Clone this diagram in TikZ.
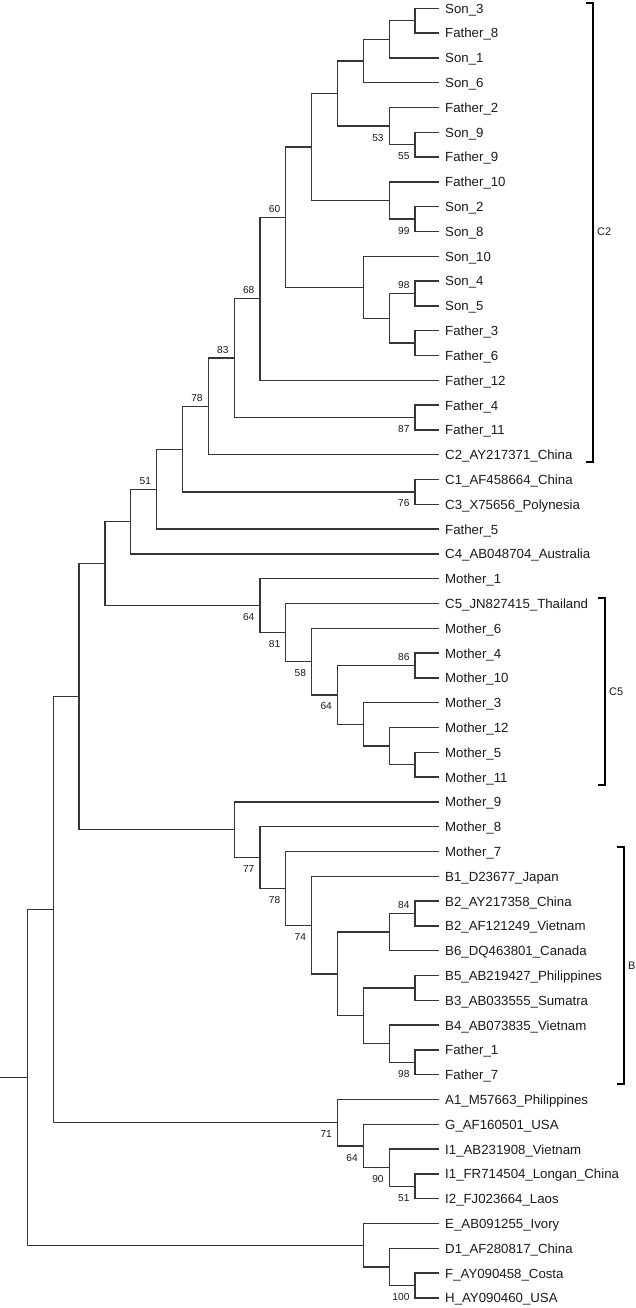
\documentclass[tikz,border=0pt]{standalone}
\usepackage{fontspec}
\setmainfont{Liberation Sans}
\usetikzlibrary{calc}
\definecolor{treegray}{HTML}{363636}
\definecolor{txt}{HTML}{1A1A1A}
\newcommand\mkclade[4]{%
  \path let \p1=(#3), \p2=(#4) in coordinate (#1) at ({1.5bp+25.85bp*#2},{0.5*(\y1+\y2)});
  \draw[br] (#3) -| (#1) |- (#4);}
\newcommand\bsb[2]{\node[bsl] (bs#1) at ([xshift=-5.5bp,yshift=-11.5bp]#1) {#2};}
\newcommand\bsa[2]{\node[bsl] (bs#1) at ([xshift=-5.5bp,yshift=8.3bp]#1) {#2};}
\begin{document}
\begin{tikzpicture}[x=1bp,y=-1bp,
  br/.style={draw=treegray,line width=1.25bp},
  leaf/.style={anchor=base west,inner sep=0pt,font=\fontsize{13.3}{15}\selectfont,text=txt},
  bsl/.style={anchor=east,inner sep=0pt,font=\fontsize{10.2}{12}\selectfont,text=txt},
  brk/.style={draw=black,line width=2bp},
  grp/.style={anchor=west,inner sep=0pt,font=\fontsize{11}{13}\selectfont,text=txt}]
\useasboundingbox (0,0) rectangle (636,1308);
\coordinate (origin) at (0,0);
\foreach \nm [count=\i] in {Son\_3,Father\_8,Son\_1,Son\_6,Father\_2,Son\_9,Father\_9,Father\_10,Son\_2,Son\_8,Son\_10,Son\_4,Son\_5,Father\_3,Father\_6,Father\_12,Father\_4,Father\_11,C2\_AY217371\_China,C1\_AF458664\_China,C3\_X75656\_Polynesia,Father\_5,C4\_AB048704\_Australia,Mother\_1,C5\_JN827415\_Thailand,Mother\_6,Mother\_4,Mother\_10,Mother\_3,Mother\_12,Mother\_5,Mother\_11,Mother\_9,Mother\_8,Mother\_7,B1\_D23677\_Japan,B2\_AY217358\_China,B2\_AF121249\_Vietnam,B6\_DQ463801\_Canada,B5\_AB219427\_Philippines,B3\_AB033555\_Sumatra,B4\_AB073835\_Vietnam,Father\_1,Father\_7,A1\_M57663\_Philippines,G\_AF160501\_USA,I1\_AB231908\_Vietnam,I1\_FR714504\_Longan\_China,I2\_FJ023664\_Laos,E\_AB091255\_Ivory,D1\_AF280817\_China,F\_AY090458\_Costa,H\_AY090460\_USA}{
  \coordinate (t\i) at (439,{8.3+24.8*(\i-1)});
  \node[leaf] (n\i) at (445,{8.3+24.8*(\i-1)+4.9}) {\nm};
}
% C2 part
\mkclade{c1}{16}{t1}{t2}
\mkclade{c2}{15}{c1}{t3}
\mkclade{c3}{14}{c2}{t4}
\mkclade{c4}{16}{t6}{t7}
\mkclade{c5}{15}{t5}{c4}
\mkclade{c6}{13}{c3}{c5}
\mkclade{c7}{16}{t9}{t10}
\mkclade{c8}{15}{t8}{c7}
\mkclade{c9}{12}{c6}{c8}
\mkclade{c10}{16}{t12}{t13}
\mkclade{c11}{16}{t14}{t15}
\mkclade{c12}{15}{c10}{c11}
\mkclade{c13}{14}{t11}{c12}
\mkclade{c14}{11}{c9}{c13}
\mkclade{c15}{10}{c14}{t16}
\mkclade{c16}{16}{t17}{t18}
\mkclade{c17}{9}{c15}{c16}
\mkclade{c18}{8}{c17}{t19}
\mkclade{c19}{16}{t20}{t21}
\mkclade{c20}{7}{c18}{c19}
\mkclade{c21}{6}{c20}{t22}
\mkclade{c22}{5}{c21}{t23}
% C5 part
\mkclade{d1}{16}{t27}{t28}
\mkclade{d2}{16}{t31}{t32}
\mkclade{d3}{15}{t30}{d2}
\mkclade{d4}{14}{t29}{d3}
\mkclade{d5}{13}{d1}{d4}
\mkclade{d6}{12}{t26}{d5}
\mkclade{d7}{11}{t25}{d6}
\mkclade{d8}{10}{t24}{d7}
\mkclade{d9}{4}{c22}{d8}
% B part
\mkclade{e1}{16}{t37}{t38}
\mkclade{e2}{15}{e1}{t39}
\mkclade{e3}{16}{t40}{t41}
\mkclade{e4}{16}{t43}{t44}
\mkclade{e5}{15}{t42}{e4}
\mkclade{e6}{14}{e3}{e5}
\mkclade{e7}{13}{e2}{e6}
\mkclade{e8}{12}{t36}{e7}
\mkclade{e9}{11}{t35}{e8}
\mkclade{e10}{10}{t34}{e9}
\mkclade{e11}{9}{t33}{e10}
\mkclade{e12}{3}{d9}{e11}
% A/G/I part
\mkclade{f1}{16}{t48}{t49}
\mkclade{f2}{15}{t47}{f1}
\mkclade{f3}{14}{t46}{f2}
\mkclade{f4}{13}{t45}{f3}
\mkclade{f5}{2}{e12}{f4}
% E/D/F/H part
\mkclade{g1}{16}{t52}{t53}
\mkclade{g2}{15}{t51}{g1}
\mkclade{g3}{14}{t50}{g2}
\mkclade{root}{1}{f5}{g3}
\draw[br] (root) -- (root -| origin);
% bootstrap values
\bsb{c4}{55}
\bsb{c5}{53}
\bsb{c7}{99}
\bsa{c10}{98}
\bsa{c14}{60}
\bsa{c15}{68}
\bsb{c16}{87}
\bsa{c17}{83}
\bsa{c18}{78}
\bsb{c19}{76}
\bsa{c21}{51}
\bsa{d1}{86}
\bsb{d5}{64}
\bsb{d6}{58}
\bsb{d7}{81}
\bsb{d8}{64}
\bsa{e1}{84}
\bsb{e4}{98}
\bsb{e8}{74}
\bsb{e9}{78}
\bsb{e10}{77}
\bsb{f1}{51}
\bsb{f2}{90}
\bsb{f3}{64}
\bsb{f4}{71}
\bsb{g1}{100}
% brackets
\coordinate (ka1) at (586,2.7); \coordinate (ka2) at (593,2.7);
\coordinate (ka3) at (593,461.7); \coordinate (ka4) at (586,461.7);
\draw[brk] (ka1) -- (ka2) -- (ka3) -- (ka4);
\node[grp] (gC2) at (597,232) {C2};
\coordinate (kb1) at (598,598.3); \coordinate (kb2) at (605,598.3);
\coordinate (kb3) at (605,785); \coordinate (kb4) at (598,785);
\draw[brk] (kb1) -- (kb2) -- (kb3) -- (kb4);
\node[grp] (gC5) at (609,691.7) {C5};
\coordinate (kc1) at (617,846.7); \coordinate (kc2) at (624,846.7);
\coordinate (kc3) at (624,1084); \coordinate (kc4) at (617,1084);
\draw[brk] (kc1) -- (kc2) -- (kc3) -- (kc4);
\node[grp] (gB) at (628,965.5) {B};
\end{tikzpicture}
\end{document}
